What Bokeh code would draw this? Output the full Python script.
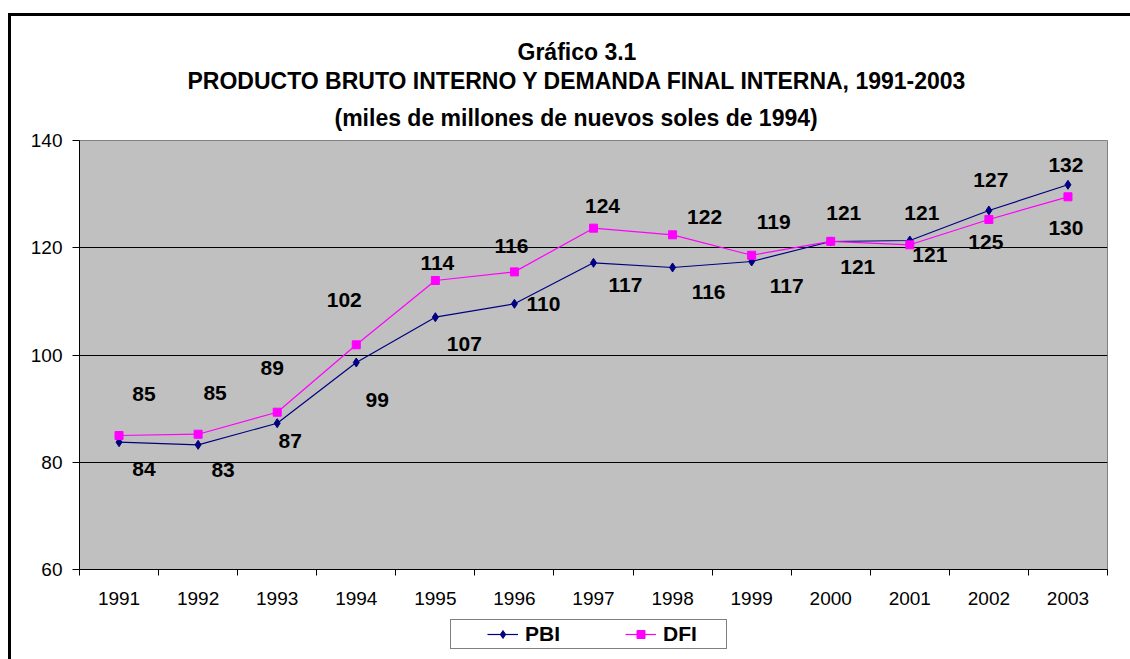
from bokeh.plotting import figure
from bokeh.layouts import column
from bokeh.models import (Range1d, FixedTicker, Legend, LegendItem, Title,
                          ColumnDataSource)
from bokeh.embed import file_html
from bokeh.resources import INLINE
from bokeh.core.properties import value

# ---------------- data ----------------
years = ["1991", "1992", "1993", "1994", "1995", "1996", "1997",
         "1998", "1999", "2000", "2001", "2002", "2003"]
pbi = [83.74, 83.25, 87.28, 98.6, 107.05, 109.55, 117.19,
       116.32, 117.44, 121.17, 121.35, 126.95, 131.74]
dfi = [84.99, 85.23, 89.33, 101.9, 113.89, 115.5, 123.65,
       122.41, 118.6, 121.2, 120.55, 125.27, 129.5]
pbi_labels = ["84", "83", "87", "99", "107", "110", "117",
              "116", "117", "121", "121", "127", "132"]
dfi_labels = ["85", "85", "89", "102", "114", "116", "124",
              "122", "119", "121", "121", "125", "130"]

# label offsets in pixels (placement of the data labels)
pbi_dx = [25, 25, 13, 21, 29, 29, 32, 36, 35, 27, 12, 2, -2]
pbi_dy = [27, 25, 18, 37, 27, 0, 22, 25, 25, 26, -28, -30, -20]
dfi_dx = [25, 17, -5, -12, 2, -3, 9, 32, 22, 13, 20, -3, -2]
dfi_dy = [-41, -41, -44, -45, -18, -26, -22, -18, -33, -28, 10, 23, 31]

title_lines = ["Gráfico 3.1",
               "PRODUCTO BRUTO INTERNO Y DEMANDA FINAL INTERNA, 1991-2003",
               "(miles de millones de nuevos soles de 1994)"]
title_offsets = [438, 108, 255]      # left offsets (px) from the plot area
title_standoffs = [4, -2, 20]

FONT = "Liberation Sans"
PBI_COLOR = "#000080"
DFI_COLOR = "#FF00FF"
xs = list(range(len(years)))

src_pbi = ColumnDataSource(dict(x=xs, y=pbi, t=pbi_labels, dx=pbi_dx, dy=pbi_dy))
src_dfi = ColumnDataSource(dict(x=xs, y=dfi, t=dfi_labels, dx=dfi_dx, dy=dfi_dy))

p = figure(width=1119, height=600, output_backend="svg", toolbar_location=None,
           x_range=Range1d(-0.5, len(years) - 0.5), y_range=Range1d(60, 140),
           min_border_left=68, min_border_right=23, min_border_top=124,
           min_border_bottom=47, title=None)
p.background_fill_color = "#C0C0C0"
p.border_fill_color = "white"
p.outline_line_color = "#808080"
p.outline_line_width = 1

# y axis
p.yaxis.ticker = FixedTicker(ticks=[60, 80, 100, 120, 140])
p.yaxis.axis_line_color = "black"
p.yaxis.major_tick_line_color = "black"
p.yaxis.major_tick_out = 7
p.yaxis.major_tick_in = 0
p.yaxis.minor_tick_line_color = None
p.yaxis.major_label_standoff = 10
p.yaxis.major_label_text_font = FONT
p.yaxis.major_label_text_font_size = "19px"
p.yaxis.major_label_text_color = "black"

# x axis: labels at centres, ticks at category boundaries
p.xaxis.ticker = FixedTicker(ticks=xs, minor_ticks=[i - 0.5 for i in range(len(years) + 1)])
p.xaxis.major_label_overrides = {i: y for i, y in enumerate(years)}
p.xaxis.axis_line_color = "black"
p.xaxis.major_tick_line_color = None
p.xaxis.major_tick_out = 0
p.xaxis.major_tick_in = 0
p.xaxis.minor_tick_line_color = "black"
p.xaxis.minor_tick_out = 6
p.xaxis.minor_tick_in = 0
p.xaxis.major_label_standoff = 16
p.xaxis.major_label_text_font = FONT
p.xaxis.major_label_text_font_size = "19px"
p.xaxis.major_label_text_color = "black"

p.xgrid.grid_line_color = None
p.ygrid.ticker = FixedTicker(ticks=[80, 100, 120])
p.ygrid.grid_line_color = "black"
p.ygrid.grid_line_width = 1

# series
p.line("x", "y", source=src_pbi, line_color=PBI_COLOR, line_width=1.2)
p.scatter("x", "y", source=src_pbi, marker="diamond", size=9,
          fill_color=PBI_COLOR, line_color=PBI_COLOR)
p.line("x", "y", source=src_dfi, line_color=DFI_COLOR, line_width=1.2)
p.scatter("x", "y", source=src_dfi, marker="square", size=8,
          fill_color=DFI_COLOR, line_color=DFI_COLOR)

for src in (src_pbi, src_dfi):
    p.text("x", "y", text="t", source=src, x_offset="dx", y_offset="dy",
           text_font=value(FONT), text_font_size="21px", text_font_style="bold",
           text_align="center", text_baseline="middle", text_color="black")

# titles (added bottom line first; later ones stack above)
for txt, off, so in reversed(list(zip(title_lines, title_offsets, title_standoffs))):
    p.add_layout(Title(text=txt, align="left", offset=off, standoff=so,
                       text_font=FONT, text_font_size="23px",
                       text_font_style="bold", text_color="black"), "above")

# legend strip (separate small canvas below the chart)
lg = figure(width=1119, height=43, output_backend="svg", toolbar_location=None,
            x_range=Range1d(0, 1), y_range=Range1d(0, 1),
            x_axis_type=None, y_axis_type=None,
            min_border_left=0, min_border_right=0, min_border_top=0,
            min_border_bottom=0)
lg.grid.grid_line_color = None
lg.outline_line_color = None
lg.background_fill_color = "white"
lg.border_fill_color = "white"
# legend-only renderers (their single point lies outside the visible range)
off_x, off_y = [5], [5]
g1 = lg.line(off_x, off_y, line_color=PBI_COLOR, line_width=1.2)
g1m = lg.scatter(off_x, off_y, marker="diamond", size=9, fill_color=PBI_COLOR, line_color=PBI_COLOR)
g2 = lg.line(off_x, off_y, line_color=DFI_COLOR, line_width=1.2)
g2m = lg.scatter(off_x, off_y, marker="square", size=8, fill_color=DFI_COLOR, line_color=DFI_COLOR)

legend = Legend(items=[LegendItem(label="PBI", renderers=[g1, g1m]),
                       LegendItem(label="DFI", renderers=[g2, g2m])],
                orientation="horizontal", location=(371, 10),
                title=" ", title_location="left", title_standoff=10,
                title_text_font=FONT, title_text_font_size="21px",
                padding=2, margin=0, spacing=39, glyph_width=31, glyph_height=20,
                label_width=61, label_standoff=7,
                border_line_color="black", border_line_width=1,
                background_fill_color="white", background_fill_alpha=1,
                label_text_font=FONT, label_text_font_size="21px",
                label_text_font_style="bold", label_text_color="black")
lg.add_layout(legend, "center")

page = column(p, lg, spacing=0,
              styles={"margin-top": "13px", "margin-left": "8px",
                      "border-top": "3px solid black",
                      "border-left": "3px solid black"})

open("out.html", "w").write(file_html(page, INLINE))
